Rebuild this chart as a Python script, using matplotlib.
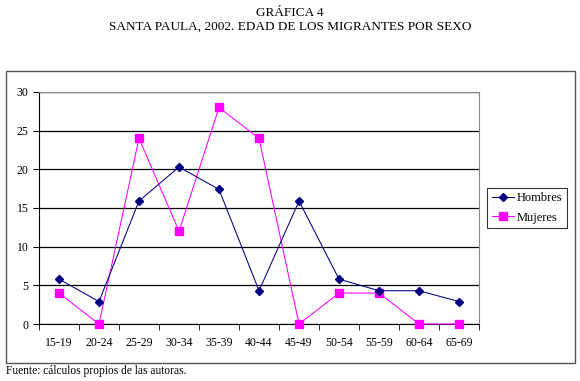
import matplotlib.pyplot as plt
from matplotlib.patches import Rectangle
import numpy as np

plt.rcParams['font.family'] = ['Liberation Serif', 'DejaVu Serif']

edades = ["15-19", "20-24", "25-29", "30-34", "35-39", "40-44",
          "45-49", "50-54", "55-59", "60-64", "65-69"]
hombres = [5.8, 2.9, 15.9, 20.3, 17.4, 4.3, 15.9, 5.8, 4.3, 4.3, 2.9]
mujeres = [4, 0, 24, 12, 28, 24, 0, 4, 4, 0, 0]

fig = plt.figure(figsize=(5.8, 3.81), dpi=100)
ax = fig.add_axes([0.0672, 0.1496, 0.7588, 0.609])

# marco exterior
fig.patches.append(Rectangle((6/580, 1-363/381), 569/580, 292/381,
                             transform=fig.transFigure, fill=False,
                             edgecolor='#555555', linewidth=1.0))

x = np.arange(len(edades))
ax.plot(x, hombres, color='#000080', marker='D', markersize=4,
        linewidth=0.75, label='Hombres', clip_on=False, zorder=4)
ax.plot(x, mujeres, color='#FF00FF', marker='s', markersize=5.5,
        linewidth=0.75, label='Mujeres', clip_on=False, zorder=3)

ax.set_xlim(-0.5, len(edades) - 0.5)
ax.set_ylim(0, 30)
ax.set_yticks(range(0, 31, 5))
ax.yaxis.grid(True, color='black', linewidth=0.9)
ax.set_axisbelow(True)
ax.set_xticks(x)
ax.set_xticklabels(edades)
ax.set_xticks(np.arange(-0.5, len(edades)), minor=True)
ax.tick_params(axis='x', which='major', length=0, labelsize=8.5, pad=9)
ax.tick_params(axis='x', which='minor', length=4, direction='out')
ax.tick_params(axis='y', labelsize=8.5, length=4, direction='out')
for s in ['top', 'right']:
    ax.spines[s].set_color('#888888')
ax.spines['left'].set_color('black')
ax.spines['bottom'].set_color('black')

leg = ax.legend(loc='center left', bbox_to_anchor=(1.01, 0.5),
                fontsize=9, frameon=True, fancybox=False,
                edgecolor='black', handlelength=1.8, borderpad=0.35,
                borderaxespad=0.3, labelspacing=0.6, handletextpad=0.2)
leg.get_frame().set_linewidth(0.8)

fig.text(0.5, 1-13/381, "GRÁFICA 4", ha='center', va='center', fontsize=9.5)
fig.text(0.5, 1-27/381, "SANTA PAULA, 2002. EDAD DE LOS MIGRANTES POR SEXO",
         ha='center', va='center', fontsize=9.5)
fig.text(6/580, 1-371/381, "Fuente: cálculos propios de las autoras.",
         ha='left', va='center', fontsize=8.3)

fig.savefig('out.png', dpi=100)
